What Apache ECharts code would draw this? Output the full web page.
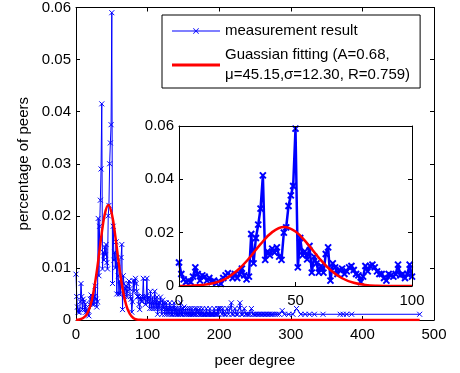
<!DOCTYPE html>
<html>
<head>
<meta charset="utf-8">
<script src="https://cdn.jsdelivr.net/npm/echarts@6/dist/echarts.min.js"></script>
<style>html,body{margin:0;padding:0;background:#fff;}#c{width:460px;height:373px;}</style>
</head>
<body>
<div id="c"></div>
<script>
var degHead = [];
for (var i = 0; i <= 100; i++) degHead.push(i);
var valHead = [
 0.0088,0.0045,0.0025,0.0015,0.0020,0.0015,0.0035,0.0070,0.0045,0.0020,
 0.0040,0.0035,0.0020,0.0030,0.0015,0.0020,0.0010,0.0018,0.0008,0.0030,
 0.0040,0.0048,0.0040,0.0030,0.0045,0.0030,0.0045,0.0065,0.0040,0.0025,
 0.0035,0.0195,0.0085,0.0180,0.0230,0.0290,0.0415,0.0098,0.0130,0.0115,
 0.0140,0.0125,0.0145,0.0110,0.0098,0.0200,0.0220,0.0300,0.0340,0.0375,
 0.0590,0.0070,0.0180,0.0115,0.0130,0.0100,0.0150,0.0050,0.0110,0.0085,
 0.0050,0.0075,0.0050,0.0120,0.0145,0.0020,0.0085,0.0070,0.0045,0.0060,
 0.0065,0.0045,0.0055,0.0070,0.0075,0.0060,0.0045,0.0040,0.0015,0.0035,
 0.0075,0.0055,0.0075,0.0080,0.0070,0.0055,0.0045,0.0045,0.0030,0.0020,
 0.0045,0.0040,0.0035,0.0045,0.0080,0.0040,0.0045,0.0030,0.0045,0.0080,
 0.0035
];
// Tail of the distribution (degree > 100)
var degTail = [
 101,102,103,104,105,106,107,108,109,110,111,112,113,114,115,116,117,118,119,120,
 121,122,123,124,125,126,127,128,129,130,131,132,133,134,135,136,137,138,139,140,
 141,142,143,144,145,146,147,148,149,150,151,152,153,154,155,156,157,158,159,160,
 161,162,163,164,165,166,167,168,169,170,171,172,173,174,175,176,177,178,179,180,
 181,182,183,184,185,186,187,188,189,190,191,192,193,194,195,196,197,198,199,200,
 202,204,205,207,209,211,213,215,217,218,220,222,224,226,228,229,231,233,235,237,
 239,241,243,245,247,249,251,253,255,257,259,261,263,265,267,269,271,273,275,278,
 281,284,288,291,297,303,308,314,320,326,333,345,369,373,378,385,480
];
var valTail = [
 0.0033,0.0044,0.0022,0.0055,0.0033,0.0022,0.0044,0.0033,0.0022,0.0055,
 0.0033,0.0022,0.0044,0.0011,0.0033,0.0022,0.0033,0.0044,0.0022,0.0011,
 0.0038,0.0022,0.0033,0.0011,0.0022,0.0033,0.0011,0.0022,0.0022,0.0011,
 0.0033,0.0022,0.0011,0.0022,0.0011,0.0022,0.0033,0.0011,0.0022,0.0011,
 0.0022,0.0011,0.0011,0.0022,0.0011,0.0033,0.0011,0.0022,0.0011,0.0022,
 0.0025,0.0011,0.0022,0.0011,0.0011,0.0022,0.0011,0.0011,0.0022,0.0011,
 0.0011,0.0022,0.0011,0.0011,0.0011,0.0022,0.0011,0.0011,0.0022,0.0018,
 0.0011,0.0011,0.0022,0.0011,0.0011,0.0011,0.0022,0.0011,0.0011,0.0011,
 0.0011,0.0022,0.0011,0.0011,0.0011,0.0011,0.0022,0.0011,0.0011,0.0011,
 0.0011,0.0011,0.0022,0.0011,0.0011,0.0011,0.0011,0.0022,0.0011,0.0022,
 0.0022,0.0011,0.0022,0.0011,0.0011,0.0022,0.0011,0.0022,0.0033,0.0011,
 0.0011,0.0022,0.0011,0.0011,0.0022,0.0033,0.0011,0.0011,0.0022,0.0011,
 0.0011,0.0011,0.0011,0.0022,0.0011,0.0011,0.0011,0.0011,0.0011,0.0011,
 0.0011,0.0011,0.0011,0.0011,0.0011,0.0011,0.0011,0.0011,0.0011,0.0011,
 0.0011,0.0011,0.0018,0.0011,0.0011,0.0011,0.0022,0.0011,0.0011,0.0011,
 0.0011,0.0011,0.0011,0.0011,0.0011,0.0011,0.0011
];
// Gaussian fitting curve
var degFit = [0,5,10,15,20,25,30,35,40,45,50,55,60,65,70,75,80,85,90,95,100,480];
var valFit = [0.00003,0.00011,0.00037,0.0011,0.0027,0.0058,0.0103,0.0157,0.0202,0.0221,
              0.0204,0.0160,0.0106,0.0060,0.0029,0.0012,0.0004,0.0001,0.00003,0.0000,0.0000,0.0000];
var nameMeas = 'measurement result';
var nameFit = 'Guassian fitting (A=0.68,\n\u03bc=45.15,\u03c3=12.30, R=0.759)';

function pairs(xs, ys, maxX) {
  var out = [];
  for (var i = 0; i < xs.length; i++) if (maxX == null || xs[i] <= maxX) out.push([xs[i], ys[i]]);
  return out;
}
var measAll = pairs(degHead, valHead).concat(pairs(degTail, valTail));
var measInset = pairs(degHead, valHead, 100);
var fitAll = pairs(degFit, valFit);
var fitInset = pairs(degFit, valFit, 100);

var FONT = "'Liberation Sans', Arial, sans-serif";
var XSYM = 'path://M0,0L10,10M0,10L10,0';
var lbl = {color: '#000', fontSize: 15, fontFamily: FONT};
function boxAxes(gridIndex, min, max, interval, isX, showLabel, pos, z, extra) {
  var a = {
    type: 'value', gridIndex: gridIndex, min: min, max: max, interval: interval, position: pos, z: z,
    axisLine: {show: true, onZero: false, lineStyle: {color: '#000', width: 1}},
    axisTick: {show: true, inside: true, length: 4, lineStyle: {color: '#000'}},
    axisLabel: Object.assign({show: showLabel, margin: isX ? 7 : 5}, lbl),
    splitLine: {show: false}
  };
  return Object.assign(a, extra || {});
}

var ICON_MEAS = 'path://M0,4.6h48v0.8h-48z M21.5,2 L27,7.5 L26.5,8 L21,2.5Z M21,7.5 L26.5,2 L27,2.5 L21.5,8Z';
var ICON_FIT = 'path://M0,0h48v3h-48z';

var chart = echarts.init(document.getElementById('c'), null, {renderer: 'canvas'});
chart.setOption({
  animation: false,
  backgroundColor: '#fff',
  textStyle: {fontFamily: FONT},
  grid: [
    {left: 76, top: 7, width: 358, height: 316},
    {left: 179, top: 126, width: 233, height: 160, show: true, backgroundColor: '#fff', borderWidth: 0, z: 5}
  ],
  legend: {
    left: 162, top: 15, orient: 'vertical',
    data: [
      {name: nameMeas, icon: ICON_MEAS, itemStyle: {color: '#0000ff', borderWidth: 0}},
      {name: nameFit, icon: ICON_FIT, itemStyle: {color: '#ff0000', borderWidth: 0}}
    ],
    itemWidth: 48, itemHeight: 10, itemGap: 4,
    padding: [6, 10, 3, 10],
    backgroundColor: '#fff', borderColor: '#000', borderWidth: 1,
    textStyle: {fontSize: 15, color: '#000', fontFamily: FONT, lineHeight: 20},
    z: 10
  },
  xAxis: [
    boxAxes(0, 0, 500, 100, true, true, 'bottom', 3, {name: 'peer degree', nameLocation: 'middle', nameGap: 33, nameTextStyle: lbl}),
    boxAxes(0, 0, 500, 100, true, false, 'top', 3),
    boxAxes(1, 0, 100, 50, true, true, 'bottom', 8),
    boxAxes(1, 0, 100, 50, true, false, 'top', 8)
  ],
  yAxis: [
    boxAxes(0, 0, 0.06, 0.01, false, true, 'left', 3, {name: 'percentage of peers', nameLocation: 'middle', nameGap: 43, nameTextStyle: lbl}),
    boxAxes(0, 0, 0.06, 0.01, false, false, 'right', 3),
    boxAxes(1, 0, 0.06, 0.02, false, true, 'left', 8),
    boxAxes(1, 0, 0.06, 0.02, false, false, 'right', 8)
  ],
  series: [
    {
      name: nameMeas, type: 'line', xAxisIndex: 0, yAxisIndex: 0, data: measAll,
      symbol: XSYM, symbolSize: 5, showAllSymbol: true,
      lineStyle: {color: '#0000ff', width: 1},
      itemStyle: {color: '#0000ff', borderColor: '#0000ff', borderWidth: 1},
      emphasis: {disabled: true}, z: 2
    },
    {
      name: nameFit, type: 'line', xAxisIndex: 0, yAxisIndex: 0, data: fitAll,
      symbol: 'none', smooth: 0.4,
      lineStyle: {color: '#ff0000', width: 2.5},
      itemStyle: {color: '#ff0000'},
      emphasis: {disabled: true}, z: 3
    },
    {
      name: nameMeas, type: 'line', xAxisIndex: 2, yAxisIndex: 2, data: measInset,
      symbol: XSYM, symbolSize: 6, showAllSymbol: true,
      lineStyle: {color: '#0000ff', width: 2.5},
      itemStyle: {color: '#0000ff', borderColor: '#0000ff', borderWidth: 2},
      emphasis: {disabled: true}, z: 6
    },
    {
      name: nameFit, type: 'line', xAxisIndex: 2, yAxisIndex: 2, data: fitInset,
      symbol: 'none', smooth: 0.4,
      lineStyle: {color: '#ff0000', width: 2.5},
      itemStyle: {color: '#ff0000'},
      emphasis: {disabled: true}, z: 7
    }
  ]
});
</script>
</body>
</html>
